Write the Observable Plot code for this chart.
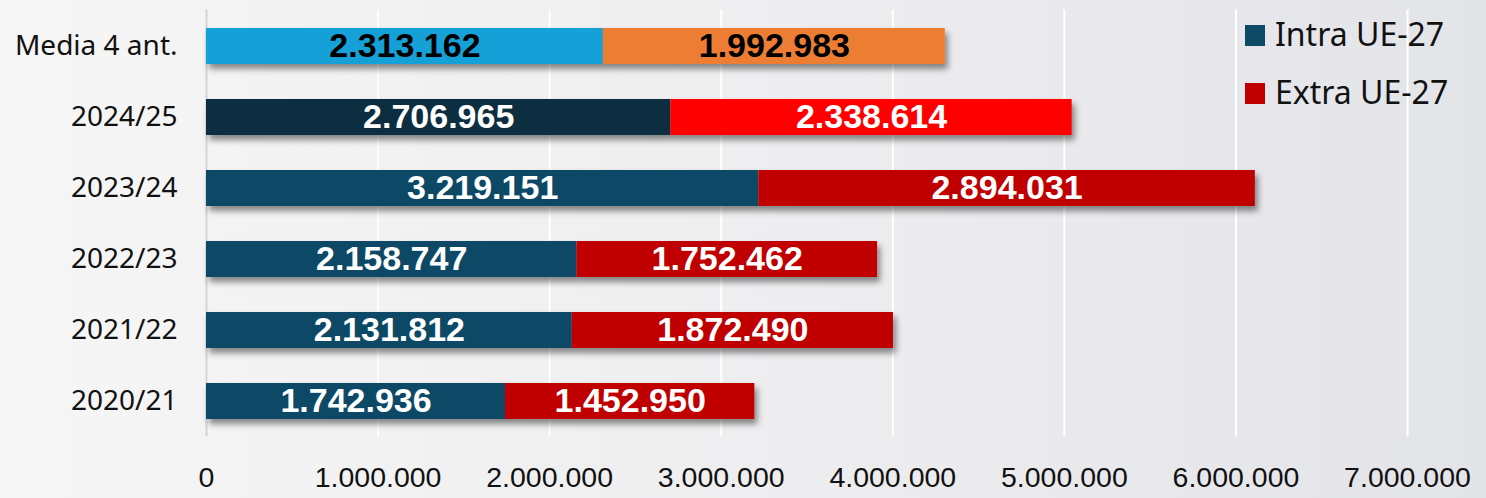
<!DOCTYPE html>
<html>
<head>
<meta charset="utf-8">
<script src="https://cdn.jsdelivr.net/npm/d3@7"></script>
<script src="https://cdn.jsdelivr.net/npm/@observablehq/plot@0.6"></script>
<style>
  html, body { margin: 0; padding: 0; }
  body {
    width: 1486px; height: 498px; overflow: hidden;
    background: linear-gradient(to right, #f6f6f6 0%, #eeeef0 50%, #e3e4e8 100%);
    position: relative;
  }
  #chart { position: absolute; left: 0; top: 0; }
  .legend { position: absolute; left: 1245px; top: 0; font-family: "Noto Sans", sans-serif; font-size: 32px; color: #111; }
  .legend .item { position: absolute; white-space: nowrap; }
  .legend .sw { position: absolute; left: 0; width: 20px; height: 21px; }
  .legend .lb { position: absolute; left: 30px; line-height: 1; }
</style>
</head>
<body>
<div id="chart"></div>
<div class="legend" id="legend"></div>
<script>
// ---- data ----
const categories = ["Media 4 ant.", "2024/25", "2023/24", "2022/23", "2021/22", "2020/21"];
const intraValues = [2313162, 2706965, 3219151, 2158747, 2131812, 1742936];
const extraValues = [1992983, 2338614, 2894031, 1752462, 1872490, 1452950];
const seriesNames = ["Intra UE-27", "Extra UE-27"];
const xTicks = [0, 1000000, 2000000, 3000000, 4000000, 5000000, 6000000, 7000000];

// ---- styles ----
const intraColors = ["#14a0d8", "#0d2d40", "#0d4a66", "#0d4a66", "#0d4a66", "#0d4a66"];
const extraColors = ["#ed7d31", "#ff0000", "#c00000", "#c00000", "#c00000", "#c00000"];
const legendColors = ["#0d4a66", "#c00000"];
const labelColors = ["#000000", "#ffffff", "#ffffff", "#ffffff", "#ffffff", "#ffffff"];

const fmt = v => d3.format(",")(v).replace(/,/g, ".");

const rows = [];
categories.forEach((c, i) => {
  rows.push({cat: c, type: seriesNames[0], value: intraValues[i], fill: intraColors[i], tc: labelColors[i]});
  rows.push({cat: c, type: seriesNames[1], value: extraValues[i], fill: extraColors[i], tc: labelColors[i]});
});

const chart = Plot.plot({
  width: 1486,
  height: 498,
  marginLeft: 206,
  marginRight: 79,
  marginTop: 9.5,
  marginBottom: 61.5,
  style: {background: "transparent", overflow: "visible"},
  x: {domain: [0, 7000000], ticks: xTicks, tickFormat: fmt, label: null, tickSize: 0, tickPadding: 30},
  y: {domain: categories, label: null, paddingInner: 0.5, paddingOuter: 0.25, tickSize: 0, tickPadding: 29},
  marks: [
    Plot.gridX(xTicks.slice(1), {stroke: "#ffffff", strokeOpacity: 1, strokeWidth: 2}),
    Plot.ruleX([0], {stroke: "#d4d4d8", strokeWidth: 2}),
    Plot.barX(rows, Plot.stackX({x: "value", y: "cat", z: "type", fill: "fill", order: null})),
    Plot.text(rows, Plot.stackX({x: "value", y: "cat", z: "type", order: null,
      text: d => fmt(d.value), fill: "tc",
      fontSize: 34, fontWeight: "bold", fontFamily: "Liberation Sans, Arial, sans-serif"})),
    Plot.axisX({ticks: xTicks, tickFormat: fmt, tickSize: 0, tickPadding: 30, fontSize: 28.5,
      fontFamily: "'Liberation Sans', Arial, sans-serif", label: null}),
    Plot.axisY({tickSize: 0, tickPadding: 29, fontSize: 28, fontFamily: "'Noto Sans', sans-serif", label: null})
  ]
});

document.getElementById("chart").appendChild(chart);

// drop shadow under bars
const ns = "http://www.w3.org/2000/svg";
const defs = document.createElementNS(ns, "defs");
defs.innerHTML = '<filter id="shadow" x="-5%" y="-30%" width="115%" height="190%"><feDropShadow dx="3" dy="5" stdDeviation="3" flood-color="#000" flood-opacity="0.45"/></filter>';
chart.insertBefore(defs, chart.firstChild);
const barG = chart.querySelector('g[aria-label="bar"]');
if (barG) barG.setAttribute("filter", "url(#shadow)");
chart.querySelectorAll('g[aria-label="y-axis tick label"] text, g[aria-label="x-axis tick label"] text').forEach(t => t.setAttribute("fill", "#111"));

// legend
const lg = document.getElementById("legend");
const legendTops = [25, 83];
seriesNames.forEach((n, i) => {
  const it = document.createElement("div");
  it.className = "item";
  it.style.top = legendTops[i] + "px";
  const sw = document.createElement("div");
  sw.className = "sw"; sw.style.background = legendColors[i];
  const lb = document.createElement("div");
  lb.className = "lb"; lb.textContent = n; lb.style.top = "-7px";
  it.appendChild(sw); it.appendChild(lb);
  lg.appendChild(it);
});
</script>
</body>
</html>
